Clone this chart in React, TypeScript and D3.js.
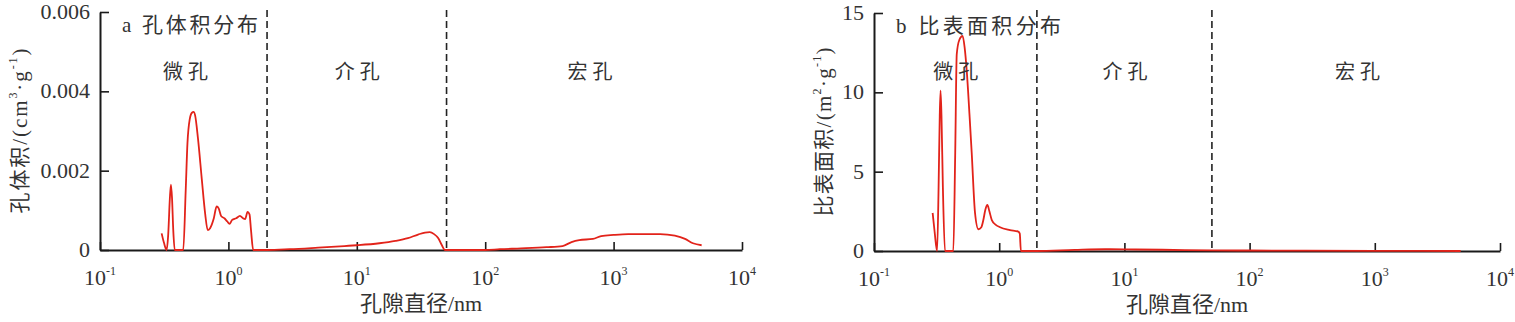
import { useEffect, useRef } from 'react';
import * as d3 from 'd3';

// shared x axis (pore diameter, nm, log scale)
const xTicks = [0.1, 1, 10, 100, 1000, 10000];
const xExponents = ['-1', '0', '1', '2', '3', '4'];
const zoneBounds = [2, 50];
const zoneNames = ['微孔', '介孔', '宏孔'];

// a: pore volume distribution
const volDiam = [
  0.302, 0.315, 0.33, 0.34, 0.35, 0.357, 0.364, 0.372, 0.382, 0.445, 0.465, 0.48, 0.5, 0.52, 0.535, 0.55,
  0.58, 0.62, 0.66, 0.69, 0.72, 0.77, 0.81, 0.84, 0.88, 0.93, 0.98, 1.02, 1.07, 1.15, 1.23, 1.3, 1.35,
  1.41, 1.46, 1.5, 1.56, 2, 3, 5, 8, 10, 15, 20, 25, 30, 34, 37, 40, 43, 46, 48.5, 100, 130, 190, 300,
  400, 470, 540, 690, 800, 1000, 1300, 2300, 3000, 3600, 4150, 4850,
];
const volValues = [
  0.00042, 0.00018, 0, 0.0004, 0.0013, 0.00165, 0.0013, 0.0005, 0, 0, 0.0015, 0.0027, 0.0033, 0.00346,
  0.00348, 0.0034, 0.0028, 0.0018, 0.0009, 0.0005, 0.00055, 0.0008, 0.0011, 0.00105, 0.00085, 0.0008,
  0.00072, 0.00066, 0.00076, 0.0008, 0.00086, 0.0008, 0.00078, 0.00096, 0.0009, 0.0005, 0, 0, 0.00002,
  0.00006, 0.0001, 0.00012, 0.00017, 0.00023, 0.0003, 0.00039, 0.00044, 0.00045, 0.0004, 0.0003,
  0.00012, 0, 0, 0.00002, 0.00004, 0.00007, 0.0001, 0.0002, 0.00025, 0.00028, 0.00035, 0.00038, 0.0004,
  0.0004, 0.00036, 0.00028, 0.00017, 0.00012,
];
const volTicks = [0, 0.002, 0.004, 0.006];
const volTickLabels = ['0', '0.002', '0.004', '0.006'];

// b: specific surface area distribution
const areaDiam = [
  0.294, 0.305, 0.319, 0.328, 0.335, 0.34, 0.346, 0.355, 0.369, 0.43, 0.445, 0.458, 0.48, 0.51, 0.53,
  0.55, 0.58, 0.603, 0.641, 0.682, 0.72, 0.747, 0.775, 0.805, 0.835, 0.873, 0.94, 1.015, 1.22, 1.42,
  1.46, 1.49, 2, 4, 7, 10, 20, 50, 100, 1000, 4850,
];
const areaValues = [
  2.4, 1.2, 0, 4, 8.5, 10.1, 8.5, 4, 0, 0, 6, 12.4, 13.3, 13.55, 12.8, 11.4, 8.5, 6.2, 2.4, 1.37, 1.5,
  1.95, 2.6, 2.9, 2.5, 1.95, 1.65, 1.5, 1.32, 1.22, 1.1, 0, 0, 0.07, 0.11, 0.1, 0.08, 0.04, 0.03, 0.01, 0,
];
const areaTicks = [0, 5, 10, 15];
const areaTickLabels = ['0', '5', '10', '15'];

const SERIF = "'Liberation Serif', 'Times New Roman', serif";
const MIXED = "'Liberation Serif', 'Noto Sans CJK SC', serif";
const INK = '#1a1a1a';
const TEXT = '#333';

interface PanelSpec {
  left: number;
  right: number;
  top: number;
  bottom: number;
  diam: number[];
  values: number[];
  yMax: number;
  yTicks: number[];
  yTickLabels: string[];
  title: string;
  titleWidth: number;
  yLabelMain: string;
  yLabelExp1: string;
  yLabelWidth: number;
  zoneAt: number[];
  yLabelX: number;
}

const panels: PanelSpec[] = [
  {
    left: 100, right: 742, top: 12, bottom: 250,
    diam: volDiam, values: volValues, yMax: 0.006, yTicks: volTicks, yTickLabels: volTickLabels,
    title: 'a 孔体积分布', titleWidth: 136, yLabelMain: '孔体积/(cm', yLabelExp1: '3', yLabelWidth: 165,
    zoneAt: [0.46, 10, 650], yLabelX: 27,
  },
  {
    left: 874, right: 1500, top: 13, bottom: 251,
    diam: areaDiam, values: areaValues, yMax: 15, yTicks: areaTicks, yTickLabels: areaTickLabels,
    title: 'b 比表面积分布', titleWidth: 165, yLabelMain: '比表面积/(m', yLabelExp1: '2', yLabelWidth: 169,
    zoneAt: [0.445, 10, 720], yLabelX: 831,
  },
];

function drawPanel(root: d3.Selection<SVGGElement, unknown, null, undefined>, p: PanelSpec) {
  const x = d3.scaleLog().domain([0.1, 10000]).range([p.left, p.right]);
  const y = d3.scaleLinear().domain([0, p.yMax]).range([p.bottom, p.top]);
  const g = root.append('g');

  // zone boundaries
  g.selectAll('line.zone')
    .data(zoneBounds)
    .enter()
    .append('line')
    .attr('x1', (d) => x(d))
    .attr('x2', (d) => x(d))
    .attr('y1', 10)
    .attr('y2', p.bottom)
    .attr('stroke', '#222')
    .attr('stroke-width', 1.6)
    .attr('stroke-dasharray', '7,4');

  const pts = p.diam.map((d, i) => [d, p.values[i]] as [number, number]);
  const line = d3
    .line<[number, number]>()
    .x((d) => x(d[0]))
    .y((d) => y(d[1]))
    .curve(d3.curveMonotoneX);

  const xAxis = g
    .append('g')
    .attr('transform', `translate(0, ${p.bottom})`)
    .call(d3.axisBottom(x).tickValues(xTicks).tickSize(-8).tickSizeOuter(0).tickFormat(() => ''));
  const yAxis = g
    .append('g')
    .attr('transform', `translate(${p.left}, 0)`)
    .call(d3.axisLeft(y).tickValues(p.yTicks).tickSize(-9).tickSizeOuter(0).tickFormat(() => ''));
  [xAxis, yAxis].forEach((a) => {
    a.select('.domain').attr('stroke', INK).attr('stroke-width', 2);
    a.selectAll('.tick line').attr('stroke', INK).attr('stroke-width', 1.6);
  });

  g.append('path')
    .attr('d', line(pts) || '')
    .attr('fill', 'none')
    .attr('stroke', '#e2231a')
    .attr('stroke-width', 1.8);

  // x tick labels with superscript exponents
  const xl = g
    .selectAll('text.xt')
    .data(xTicks)
    .enter()
    .append('text')
    .attr('x', (d) => x(d))
    .attr('y', p.bottom + 35)
    .attr('text-anchor', 'middle')
    .style('font-family', SERIF)
    .style('font-size', '22px')
    .style('fill', TEXT);
  xl.append('tspan').text('10');
  xl.append('tspan')
    .attr('dy', -10)
    .style('font-size', '12px')
    .text((_, i) => xExponents[i]);

  // y tick labels
  g.selectAll('text.yt')
    .data(p.yTicks)
    .enter()
    .append('text')
    .attr('x', p.left - 10)
    .attr('y', (d) => y(d) + 7)
    .attr('text-anchor', 'end')
    .style('font-family', SERIF)
    .style('font-size', '22px')
    .style('fill', TEXT)
    .text((_, i) => p.yTickLabels[i]);

  // title
  g.append('text')
    .attr('x', p.left + 22)
    .attr('y', p.top + 20)
    .attr('textLength', p.titleWidth)
    .attr('lengthAdjust', 'spacing')
    .style('font-family', MIXED)
    .style('font-size', '21px')
    .style('fill', TEXT)
    .text(p.title);

  // zone names
  g.selectAll('text.zn')
    .data(p.zoneAt)
    .enter()
    .append('text')
    .attr('x', (d) => x(d) - 22)
    .attr('y', 79)
    .attr('textLength', 45)
    .attr('lengthAdjust', 'spacing')
    .style('font-family', MIXED)
    .style('font-size', '20px')
    .style('fill', TEXT)
    .text((_, i) => zoneNames[i]);

  // x label
  g.append('text')
    .attr('x', (p.left + p.right) / 2)
    .attr('y', p.bottom + 61)
    .attr('text-anchor', 'middle')
    .style('font-family', MIXED)
    .style('font-size', '22px')
    .style('fill', TEXT)
    .text('孔隙直径/nm');

  // y label
  const yl = g
    .append('text')
    .attr('transform', `translate(${p.yLabelX}, ${(p.top + p.bottom) / 2}) rotate(-90)`)
    .attr('text-anchor', 'middle')
    .attr('textLength', p.yLabelWidth)
    .attr('lengthAdjust', 'spacing')
    .style('font-family', MIXED)
    .style('font-size', '21px')
    .style('fill', TEXT);
  yl.append('tspan').text(p.yLabelMain);
  yl.append('tspan').attr('dy', -10).style('font-size', '12px').text(p.yLabelExp1);
  yl.append('tspan').attr('dy', 10).text('·g');
  yl.append('tspan').attr('dy', -10).style('font-size', '12px').text('-1');
  yl.append('tspan').attr('dy', 10).text(')');
}

export default function App() {
  const svgRef = useRef<SVGSVGElement>(null);

  useEffect(() => {
    if (!svgRef.current) return;
    document.body.style.margin = '0';
    const svg = d3.select(svgRef.current);
    svg.selectAll('*').remove();
    const root = svg.append('g') as d3.Selection<SVGGElement, unknown, null, undefined>;
    panels.forEach((p) => drawPanel(root, p));
  }, []);

  return <svg ref={svgRef} width={1515} height={322} style={{ display: 'block', background: '#fff' }} />;
}
